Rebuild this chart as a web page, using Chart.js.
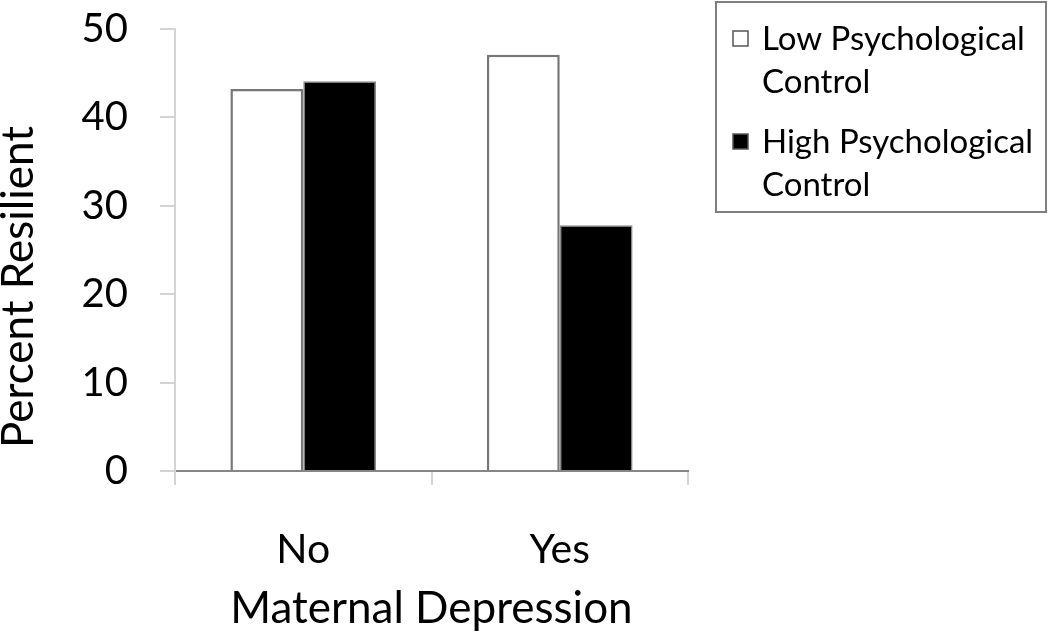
<!DOCTYPE html>
<html>
<head>
<meta charset="utf-8">
<script src="https://cdn.jsdelivr.net/npm/chart.js@4.4.1/dist/chart.umd.min.js"></script>
<style>
  html, body { margin: 0; padding: 0; background: #fff; }
  #wrap { width: 1050px; height: 641px; position: relative; }
</style>
</head>
<body>
<div id="wrap"><canvas id="resilience-chart"></canvas></div>
<script>
var categories = ['No', 'Yes'];
var seriesNames = [['Low Psychological', 'Control'], ['High Psychological', 'Control']];
var lowControl = [43.2, 47.1];
var highControl = [44.1, 27.8];
var yMin = 0, yMax = 50, yStep = 10;
var xTitle = 'Maternal Depression';
var yTitle = 'Percent Resilient';

var FONT = 'Lato, "Open Sans", sans-serif';

// y axis title, placed like the original (a bit below the plot centre)
var yTitlePlugin = {
   id: 'yTitle',
   afterDraw: function(chart) {
      var ctx = chart.ctx;
      ctx.save();
      ctx.translate(19, 287);
      ctx.rotate(-Math.PI / 2);
      ctx.font = '44px ' + FONT;
      ctx.fillStyle = '#000';
      ctx.textAlign = 'center';
      ctx.textBaseline = 'middle';
      ctx.fillText(yTitle, 0, 0);
      ctx.restore();
   }
};

// boxed legend on the right, two-line labels
var boxLegend = {
   id: 'boxLegend',
   afterDraw: function(chart) {
      var ctx = chart.ctx;
      ctx.save();
      ctx.strokeStyle = '#7f7f7f';
      ctx.lineWidth = 2;
      ctx.strokeRect(716, 2, 330, 210);
      ctx.font = '33px ' + FONT;
      ctx.textBaseline = 'middle';
      ctx.textAlign = 'left';
      var rowY = [39, 142];
      chart.data.datasets.forEach(function(ds, i) {
         ctx.fillStyle = ds.backgroundColor;
         ctx.fillRect(733, rowY[i] - 8, 15, 15);
         ctx.strokeStyle = '#555';
         ctx.lineWidth = 1.5;
         ctx.strokeRect(733, rowY[i] - 8, 15, 15);
         ctx.fillStyle = '#000';
         ds.labelLines.forEach(function(line, j) {
            ctx.fillText(line, 762, rowY[i] + j * 43);
         });
      });
      ctx.restore();
   }
};

var config = {
   type: 'bar',
   data: {
      labels: categories,
      datasets: [{
         label: seriesNames[0].join(' '),
         labelLines: seriesNames[0],
         data: lowControl,
         backgroundColor: '#ffffff',
         borderColor: '#777777',
         borderWidth: 2.5
      }, {
         label: seriesNames[1].join(' '),
         labelLines: seriesNames[1],
         data: highControl,
         backgroundColor: '#000000',
         borderColor: '#8a8a8a',
         borderWidth: 1.5
      }]
   },
   options: {
      responsive: true,
      maintainAspectRatio: false,
      animation: false,
      categoryPercentage: 0.568,
      barPercentage: 1,
      layout: { padding: { top: 29, right: 362, left: 0, bottom: 0 } },
      plugins: {
         legend: { display: false },
         tooltip: { enabled: false }
      },
      scales: {
         x: {
            offset: true,
            grid: {
               offset: true,
               drawOnChartArea: false,
               drawTicks: true,
               tickLength: 14,
               color: '#d4d4d4',
               lineWidth: 2
            },
            border: { color: '#868686', width: 2 },
            ticks: {
               color: '#000',
               font: { family: FONT, size: 41 },
               padding: 40
            },
            title: {
               display: true,
               text: xTitle,
               color: '#000',
               font: { family: FONT, size: 44 },
               padding: { top: 0, bottom: 6 }
            },
            afterFit: function(scale) { scale.height = 170; }
         },
         y: {
            min: yMin,
            max: yMax,
            grid: {
               drawOnChartArea: false,
               drawTicks: true,
               tickLength: 15,
               color: '#d4d4d4',
               lineWidth: 2
            },
            border: { color: '#d4d4d4', width: 2 },
            ticks: {
               stepSize: yStep,
               color: '#000',
               font: { family: FONT, size: 40 },
               padding: 32
            },
            afterFit: function(scale) {
               scale.width = 175;
               scale.paddingTop = 0;
               scale.paddingBottom = 0;
            }
         }
      }
   },
   plugins: [yTitlePlugin, boxLegend]
};

var ctx = document.getElementById('resilience-chart').getContext('2d');
var chart = new Chart(ctx, config);
</script>
</body>
</html>
